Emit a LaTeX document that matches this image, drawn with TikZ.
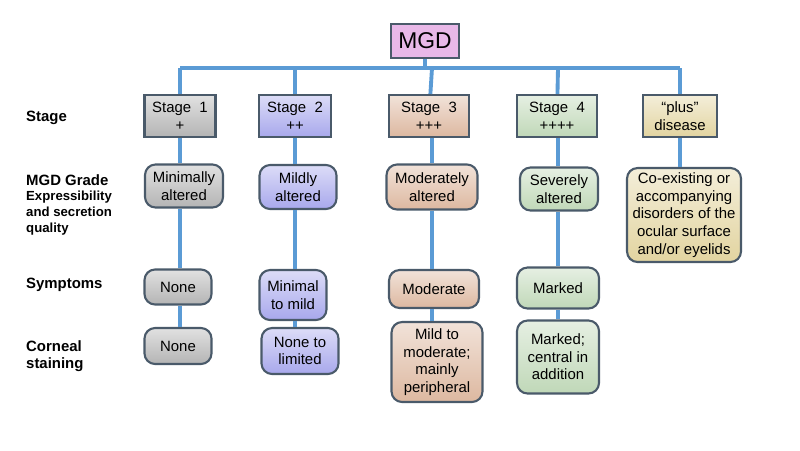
\documentclass[tikz,border=0pt]{standalone}
\usepackage{fontspec}
\setmainfont{Liberation Sans}
\usetikzlibrary{positioning}
\definecolor{linkblue}{HTML}{5B9BD5}
\definecolor{boxline}{HTML}{4A5A6A}
\definecolor{grayc}{HTML}{B4B4B4}
\definecolor{lavc}{HTML}{A8A8EC}
\definecolor{tanc}{HTML}{DDB8A0}
\definecolor{greenc}{HTML}{C0D8B8}
\definecolor{yelc}{HTML}{E2D4A0}
\definecolor{pinkc}{HTML}{E8B8E8}
\begin{document}
\begin{tikzpicture}[x=0.02cm,y=-0.02cm,
    stage/.style = {shape=rectangle,draw=boxline,line width=1.2pt,align=center,
        font=\fontsize{8.5}{10}\selectfont,inner sep=1pt},
    cell/.style = {shape=rectangle,rounded corners=6pt,draw=boxline,line width=1.2pt,
        align=center,font=\fontsize{8.5}{10}\selectfont,inner sep=1pt},
    rowlabel/.style = {anchor=west,font=\fontsize{8.5}{10}\selectfont\bfseries,align=left},
    link/.style = {draw=linkblue,line width=2.2pt}]
  \useasboundingbox (0,0) rectangle (800,450);
  % top
  \node[stage,fill=pinkc,minimum width=1.36cm,minimum height=0.68cm,font=\fontsize{13}{15}\selectfont] (mgd) at (425,41) {MGD};
  \coordinate (bar) at (425,68);
  \coordinate (barl) at (180,68);
  \coordinate (barr) at (680,68);
  \foreach \n/\x in {a/180,b/295,c/432,d/558,e/680} \coordinate (top\n) at (\x,68);
  % row labels
  \node[rowlabel] (lstage) at (20,118) {Stage};
  \node[rowlabel,anchor=north west] (lgrade) at (20,168) {MGD Grade\\[-1pt]{\fontsize{7.5}{9}\selectfont Expressibility}\\[-1pt]{\fontsize{7.5}{9}\selectfont and secretion}\\[-1pt]{\fontsize{7.5}{9}\selectfont quality}};
  \node[rowlabel] (lsym) at (20,285) {Symptoms};
  \node[rowlabel,anchor=north west] (lcorn) at (20,334) {Corneal\\staining};
  % stages
  \node[stage,top color=grayc!40,bottom color=grayc,minimum width=1.42cm,minimum height=0.84cm] (s1) at (180,116) {Stage\ \ 1\\+};
  \node[stage,top color=lavc!40,bottom color=lavc,minimum width=1.44cm,minimum height=0.84cm] (s2) at (295,116) {Stage\ \ 2\\++};
  \node[stage,top color=tanc!40,bottom color=tanc,minimum width=1.6cm,minimum height=0.84cm] (s3) at (429,116) {Stage\ \ 3\\+++};
  \node[stage,top color=greenc!40,bottom color=greenc,minimum width=1.6cm,minimum height=0.84cm] (s4) at (557,116) {Stage\ \ 4\\++++};
  \node[stage,top color=yelc!40,bottom color=yelc,minimum width=1.48cm,minimum height=0.84cm] (s5) at (680,116) {``plus''\\disease};
  % grades
  \node[cell,top color=grayc!40,bottom color=grayc,minimum width=1.56cm,minimum height=0.86cm] (g1) at (184,186) {Minimally\\altered};
  \node[cell,top color=lavc!40,bottom color=lavc,minimum width=1.54cm,minimum height=0.88cm] (g2) at (298,187) {Mildly\\altered};
  \node[cell,top color=tanc!40,bottom color=tanc,minimum width=1.82cm,minimum height=0.9cm] (g3) at (432,187) {Moderately\\altered};
  \node[cell,top color=greenc!40,bottom color=greenc,minimum width=1.56cm,minimum height=0.86cm] (g4) at (559,189) {Severely\\altered};
  \node[cell,top color=yelc!40,bottom color=yelc,minimum width=2.28cm,minimum height=1.88cm] (g5) at (684,215) {Co-existing or\\accompanying\\disorders of the\\ocular surface\\and/or eyelids};
  % symptoms
  \node[cell,top color=grayc!40,bottom color=grayc,minimum width=1.34cm,minimum height=0.7cm] (m1) at (178,287) {None};
  \node[cell,top color=lavc!40,bottom color=lavc,minimum width=1.34cm,minimum height=1.0cm] (m2) at (293,295) {Minimal\\to mild};
  \node[cell,top color=tanc!40,bottom color=tanc,minimum width=1.8cm,minimum height=0.76cm] (m3) at (434,289) {Moderate};
  \node[cell,top color=greenc!40,bottom color=greenc,minimum width=1.64cm,minimum height=0.82cm] (m4) at (558,288) {Marked};
  % corneal staining
  \node[cell,top color=grayc!40,bottom color=grayc,minimum width=1.34cm,minimum height=0.72cm] (c1) at (178,346) {None};
  \node[cell,top color=lavc!40,bottom color=lavc,minimum width=1.54cm,minimum height=0.92cm] (c2) at (300,351) {None to\\limited};
  \node[cell,top color=tanc!40,bottom color=tanc,minimum width=1.82cm,minimum height=1.6cm] (c3) at (437,362) {Mild to\\moderate;\\mainly\\peripheral};
  \node[cell,top color=greenc!40,bottom color=greenc,minimum width=1.64cm,minimum height=1.46cm] (c4) at (558,357) {Marked;\\central in\\addition};
  % connectors
  \begin{scope}[on background layer/.try]
  \end{scope}
  \draw[link] (mgd) -- (bar);
  \draw[link] (barl) -- (barr);
  \draw[link] (topa) -- (s1);
  \draw[link] (topb) -- (s2);
  \draw[link] (topc) -- (s3);
  \draw[link] (topd) -- (s4);
  \draw[link] (tope) -- (s5);
  \draw[link] (s1.south -| topa) -- (g1.north -| topa);
  \draw[link] (g1.south -| topa) -- (m1.north -| topa);
  \draw[link] (m1.south -| topa) -- (c1.north -| topa);
  \draw[link] (s2.south -| topb) -- (g2.north -| topb);
  \draw[link] (g2.south -| topb) -- (m2.north -| topb);
  \draw[link] (m2.south -| topb) -- (c2.north -| topb);
  \draw[link] (s3.south -| topc) -- (g3.north -| topc);
  \draw[link] (g3.south -| topc) -- (m3.north -| topc);
  \draw[link] (m3.south -| topc) -- (c3.north -| topc);
  \draw[link] (s4.south -| topd) -- (g4.north -| topd);
  \draw[link] (g4.south -| topd) -- (m4.north -| topd);
  \draw[link] (m4.south -| topd) -- (c4.north -| topd);
  \draw[link] (s5.south -| tope) -- (g5.north -| tope);
\end{tikzpicture}
\end{document}
